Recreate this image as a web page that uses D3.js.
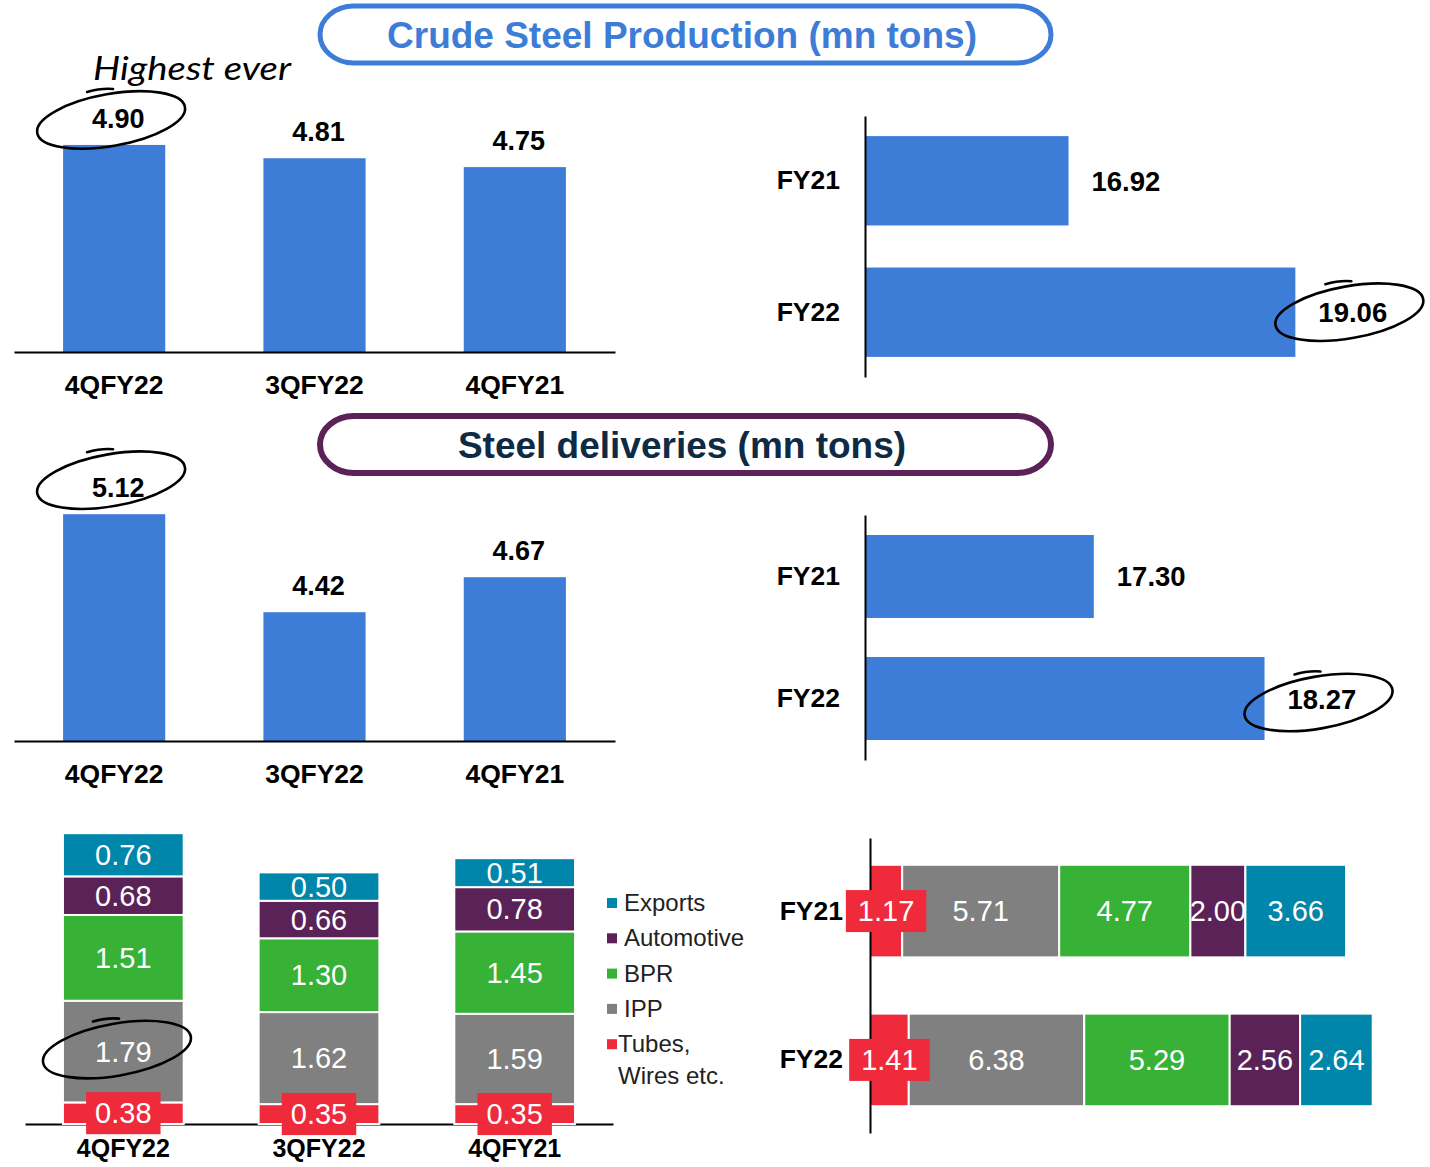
<!DOCTYPE html>
<html>
<head>
<meta charset="utf-8">
<script src="https://cdn.jsdelivr.net/npm/d3@7"></script>
<style>
  body { margin: 0; background: #fff; }
  svg text { font-family: Arial, "Liberation Sans", sans-serif; }
</style>
</head>
<body>
<div id="chart"></div>
<script>
// ---- data ----
var quarters = ['4QFY22', '3QFY22', '4QFY21']
var years = ['FY21', 'FY22']

var crudeQtr = [4.90, 4.81, 4.75]
var crudeYear = [16.92, 19.06]
var delivQtr = [5.12, 4.42, 4.67]
var delivYear = [17.30, 18.27]

// stacked segments, bottom/left first
var segments = ['Tubes, Wires etc.', 'IPP', 'BPR', 'Automotive', 'Exports']
var tubesQtr = [0.38, 0.35, 0.35]
var ippQtr = [1.79, 1.62, 1.59]
var bprQtr = [1.51, 1.30, 1.45]
var autoQtr = [0.68, 0.66, 0.78]
var exportsQtr = [0.76, 0.50, 0.51]
var tubesYear = [1.17, 1.41]
var ippYear = [5.71, 6.38]
var bprYear = [4.77, 5.29]
var autoYear = [2.00, 2.56]
var exportsYear = [3.66, 2.64]

var BLUE = '#3d7dd8'
var segColor = d3.scaleOrdinal()
  .domain(segments)
  .range(['#ee2a3b', '#808080', '#37b236', '#5b2257', '#0085ab'])

var svg = d3.select('#chart').append('svg')
  .attr('width', 1430).attr('height', 1167)
  .attr('viewBox', '0 0 1430 1167')

function styleAxis(ax) {
  ax.select('.domain').style('stroke', '#000').style('stroke-width', 2)
  ax.selectAll('text').style('font-size', '26.5px').style('font-weight', 'bold')
    .style('font-family', 'Arial, "Liberation Sans", sans-serif').attr('fill', '#000')
}

// ---- title boxes ----
function titleBox(y, h, stroke, sw, color, txt) {
  var g = svg.append('g')
  g.append('rect')
    .attr('x', 320).attr('y', y).attr('width', 731).attr('height', h)
    .attr('rx', 34).attr('ry', h / 2)
    .style('fill', 'white').style('stroke', stroke).style('stroke-width', sw)
  g.append('text')
    .attr('x', 682).attr('y', y + h / 2 + 13)
    .attr('text-anchor', 'middle')
    .style('font-size', '37px').style('font-weight', 'bold')
    .style('fill', color)
    .text(txt)
}
titleBox(6, 57, BLUE, 5, BLUE, 'Crude Steel Production (mn tons)')
titleBox(416, 57, '#5b2257', 6, '#0e2b45', 'Steel deliveries (mn tons)')

// ---- simple vertical bars ----
function colChart(vals, yMin, yMax, base, pxPerUnit) {
  var x = d3.scaleBand().domain(quarters).range([14, 615])
    .paddingInner(0.49).paddingOuter(0.245)
  var y = d3.scaleLinear().domain([yMin, yMax]).range([base, base - (yMax - yMin) * pxPerUnit])
  var g = svg.append('g')

  g.selectAll('rect.bar').data(vals).enter().append('rect')
    .attr('class', 'bar')
    .attr('x', function(d, i) { return x(quarters[i]) })
    .attr('y', function(d) { return y(d) })
    .attr('width', x.bandwidth())
    .attr('height', function(d) { return y(yMin) - y(d) })
    .style('fill', BLUE)

  g.selectAll('text.val').data(vals).enter().append('text')
    .attr('class', 'val')
    .attr('x', function(d, i) { return x(quarters[i]) + x.bandwidth() / 2 + 4 })
    .attr('y', function(d) { return y(d) - 17 })
    .attr('text-anchor', 'middle')
    .style('font-size', '27px').style('font-weight', 'bold')
    .text(function(d) { return d.toFixed(2) })

  var ax = g.append('g').attr('transform', 'translate(0,' + base + ')')
    .call(d3.axisBottom(x).tickSize(0).tickSizeOuter(0).tickPadding(23))
  styleAxis(ax)
  return { x: x, y: y }
}

// ---- simple horizontal bars ----
function barChart(vals, xMin, xMax, pxPerUnit, top, bottom, pin, pout) {
  var y = d3.scaleBand().domain(years).range([top, bottom])
    .paddingInner(pin).paddingOuter(pout)
  var x = d3.scaleLinear().domain([xMin, xMax]).range([865, 865 + (xMax - xMin) * pxPerUnit])
  var g = svg.append('g')

  g.selectAll('rect.bar').data(vals).enter().append('rect')
    .attr('class', 'bar')
    .attr('x', x(xMin))
    .attr('y', function(d, i) { return y(years[i]) })
    .attr('width', function(d) { return x(d) - x(xMin) })
    .attr('height', y.bandwidth())
    .style('fill', BLUE)

  g.selectAll('text.val').data(vals).enter().append('text')
    .attr('class', 'val')
    .attr('x', function(d) { return x(d) + 23 })
    .attr('y', function(d, i) { return y(years[i]) + y.bandwidth() / 2 + 10 })
    .style('font-size', '27.5px').style('font-weight', 'bold')
    .text(function(d) { return d.toFixed(2) })

  var ax = g.append('g').attr('transform', 'translate(865,0)')
    .call(d3.axisLeft(y).tickSize(0).tickSizeOuter(0).tickPadding(25))
  styleAxis(ax)
  return { x: x, y: y }
}

var c1 = colChart(crudeQtr, 3.5, 5.0, 352, 147.9)
var c2 = barChart(crudeYear, 15, 20, 106, 116, 377, 0.32, 0.153)
var c3 = colChart(delivQtr, 3.5, 5.5, 741, 140)
var c4 = barChart(delivYear, 16, 19, 176, 515, 760, 0.32, 0.164)

// ---- stacked quarterly ----
var qRows = quarters.map(function(q, i) {
  return { cat: q, 'Tubes, Wires etc.': tubesQtr[i], IPP: ippQtr[i], BPR: bprQtr[i],
           Automotive: autoQtr[i], Exports: exportsQtr[i] }
})
var yRows = years.map(function(q, i) {
  return { cat: q, 'Tubes, Wires etc.': tubesYear[i], IPP: ippYear[i], BPR: bprYear[i],
           Automotive: autoYear[i], Exports: exportsYear[i] }
})
var stack = d3.stack().keys(segments)

var sx = d3.scaleBand().domain(quarters).range([25, 613]).paddingInner(0.383).paddingOuter(0.194)
var sy = d3.scaleLinear().domain([0, 5.5]).range([1124, 1124 - 5.5 * 56.8])
var g5 = svg.append('g')

var ax5 = g5.append('g').attr('transform', 'translate(0,1124)')
  .call(d3.axisBottom(sx).tickSize(0).tickSizeOuter(0).tickPadding(15))
styleAxis(ax5)
ax5.selectAll('text').style('font-size', '25px')

var layers5 = g5.selectAll('g.layer').data(stack(qRows)).enter().append('g')
  .attr('class', 'layer')
  .style('fill', function(d) { return segColor(d.key) })
layers5.selectAll('rect').data(function(d) { return d }).enter().append('rect')
  .attr('x', function(d) { return sx(d.data.cat) })
  .attr('y', function(d) { return sy(d[1]) })
  .attr('width', sx.bandwidth())
  .attr('height', function(d) { return sy(d[0]) - sy(d[1]) })
  .style('stroke', 'white').style('stroke-width', 2)

// ---- stacked yearly ----
var hx = d3.scaleLinear().domain([0, 20]).range([870, 870 + 20 * 27.5])
var hy = d3.scaleBand().domain(years).range([838, 1133]).paddingInner(0.378).paddingOuter(0.18)
var g6 = svg.append('g')

var layers6 = g6.selectAll('g.layer').data(stack(yRows)).enter().append('g')
  .attr('class', 'layer')
  .style('fill', function(d) { return segColor(d.key) })
layers6.selectAll('rect').data(function(d) { return d }).enter().append('rect')
  .attr('x', function(d) { return hx(d[0]) })
  .attr('y', function(d) { return hy(d.data.cat) })
  .attr('width', function(d) { return hx(d[1]) - hx(d[0]) })
  .attr('height', hy.bandwidth())
  .style('stroke', 'white').style('stroke-width', 2)

var ax6 = g6.append('g').attr('transform', 'translate(870,0)')
  .call(d3.axisLeft(hy).tickSize(0).tickSizeOuter(0).tickPadding(27))
styleAxis(ax6)

// segment value labels, drawn after all layers (tubes get a red tag box)
function segLabels(series, cx, cy, padX) {
  var lg = svg.append('g')
  series.forEach(function(layer) {
    layer.forEach(function(d) {
      var px = cx(d), py = cy(d)
      var tag = layer.key === segments[0] ? lg.append('rect') : null
      var t = lg.append('text')
        .attr('x', px).attr('y', py + 10)
        .attr('text-anchor', 'middle')
        .style('font-size', '29px').style('fill', 'white')
        .text((d[1] - d[0]).toFixed(2))
      if (tag) {
        var w = t.node().getComputedTextLength() + padX
        tag.attr('x', px - w / 2).attr('y', py - 21)
          .attr('width', w).attr('height', 42)
          .style('fill', segColor(layer.key))
      }
    })
  })
}
segLabels(stack(qRows),
  function(d) { return sx(d.data.cat) + sx.bandwidth() / 2 },
  function(d) { return (sy(d[0]) + sy(d[1])) / 2 }, 18)
segLabels(stack(yRows),
  function(d) { return (hx(d[0]) + hx(d[1])) / 2 },
  function(d) { return hy(d.data.cat) + hy.bandwidth() / 2 }, 24)

// ---- legend ----
var legend = svg.append('g').attr('transform', 'translate(607,903)')
  .selectAll('g').data(segments.slice().reverse()).enter().append('g')
  .attr('transform', function(d, i) { return 'translate(0,' + i * 35.3 + ')' })
legend.append('rect')
  .attr('x', 0).attr('y', -5).attr('width', 10).attr('height', 10)
  .style('fill', function(d) { return segColor(d) })
legend.append('text')
  .attr('y', 8)
  .style('font-size', '24px').style('fill', '#222')
  .each(function(d) {
    var parts = d === segments[0] ? ['Tubes,', 'Wires etc.'] : [d]
    d3.select(this).selectAll('tspan').data(parts).enter().append('tspan')
      .attr('x', d === segments[0] ? 11 : 17)
      .attr('dy', function(p, i) { return i ? 32 : 0 })
      .text(function(p) { return p })
  })

// ---- hand drawn highlights ----
var ink = svg.append('g').style('fill', 'none').style('stroke', '#000')
  .style('stroke-width', 2.6).style('stroke-linecap', 'round')
function loop(cx, cy) {
  ink.append('ellipse')
    .attr('cx', cx).attr('cy', cy).attr('rx', 75).attr('ry', 26)
    .attr('transform', 'rotate(-10,' + cx + ',' + cy + ')')
  ink.append('path')
    .attr('d', 'M' + (cx - 24) + ',' + (cy - 28) + 'Q' + (cx - 10) + ',' + (cy - 32) + ' ' + (cx + 2) + ',' + (cy - 31))
}
loop(c1.x(quarters[0]) + 48, c1.y(crudeQtr[0]) - 25)
loop(c3.x(quarters[0]) + 48, c3.y(delivQtr[0]) - 34)
loop(c2.x(crudeYear[1]) + 54, c2.y(years[1]) + c2.y.bandwidth() / 2)
loop(c4.x(delivYear[1]) + 54, c4.y(years[1]) + c4.y.bandwidth() / 2 + 4)
loop(sx(quarters[0]) + 54, (sy(tubesQtr[0]) + sy(tubesQtr[0] + ippQtr[0])) / 2 - 2)

svg.append('text')
  .attr('x', 93).attr('y', 80)
  .attr('textLength', 198).attr('lengthAdjust', 'spacingAndGlyphs')
  .style('font-family', '"Comic Sans MS", "Segoe Print", Lato, sans-serif')
  .style('font-style', 'italic')
  .style('font-size', '32px').style('fill', '#000')
  .text('Highest ever')
</script>
</body>
</html>
